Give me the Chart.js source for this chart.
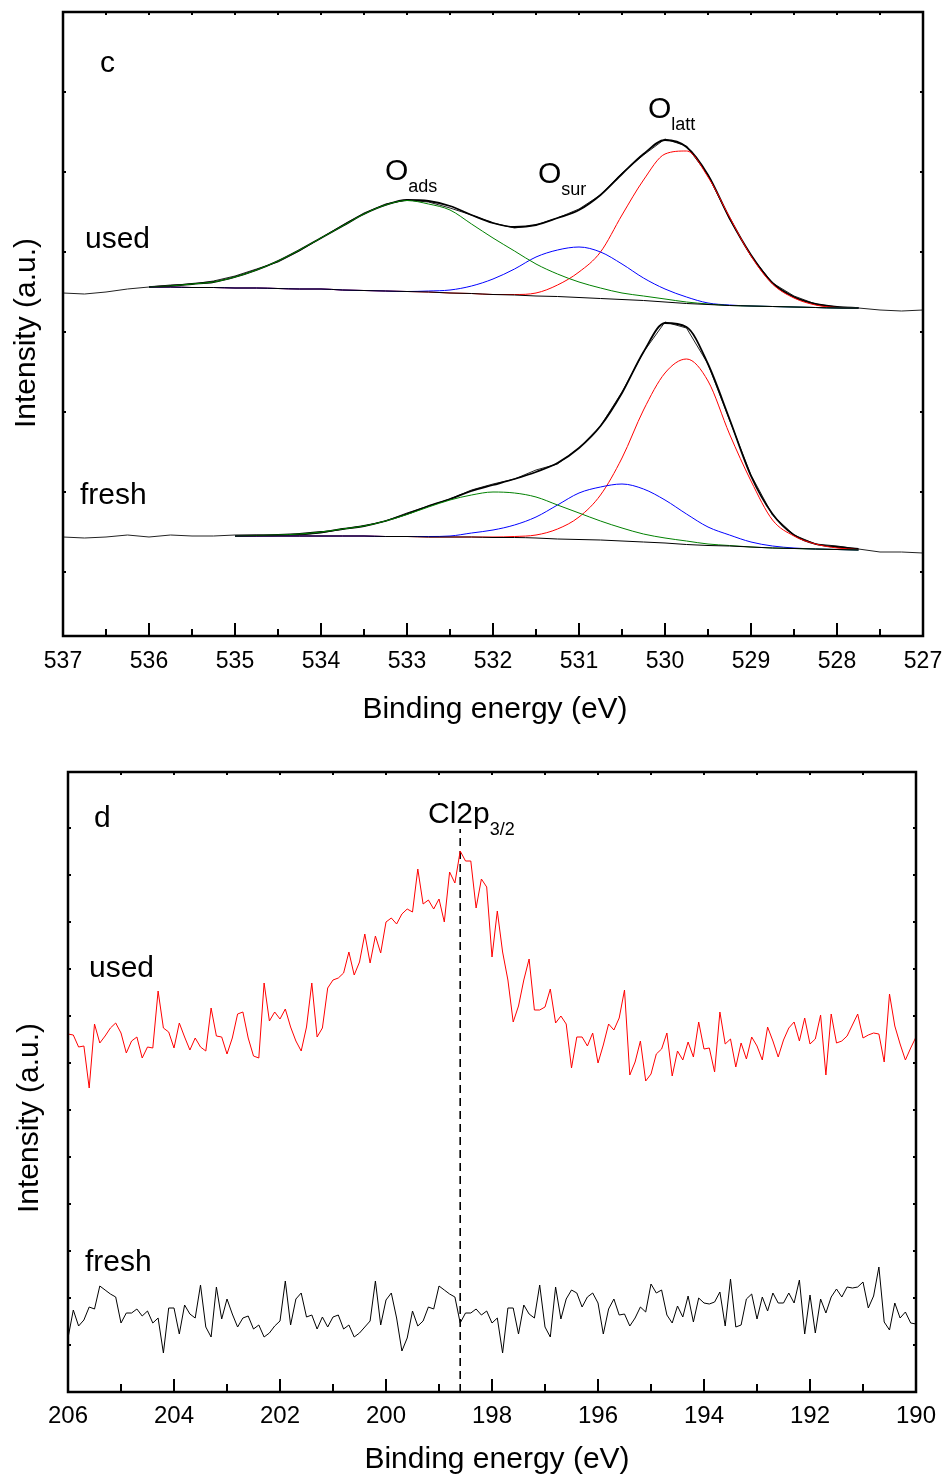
<!DOCTYPE html>
<html lang="en">
<head>
<meta charset="UTF-8">
<title>XPS O 1s and Cl 2p</title>
<script src="https://cdn.jsdelivr.net/npm/chart.js"></script>
<style>
  body { margin: 0; background: #fff; }
  canvas { position: absolute; left: 0; }
</style>
</head>
<body>
<canvas id="chartC" width="947" height="737" style="top:0"></canvas>
<canvas id="chartD" width="947" height="738" style="top:737px"></canvas>

<script>
// ---- panel c : O 1s, intensity in a.u., 0.25 eV steps ----
const energyO = [537, 536.75, 536.5, 536.25, 536, 535.75, 535.5, 535.25, 535, 534.75,
  534.5, 534.25, 534, 533.75, 533.5, 533.25, 533, 532.75, 532.5, 532.25,
  532, 531.75, 531.5, 531.25, 531, 530.75, 530.5, 530.25, 530, 529.75,
  529.5, 529.25, 529, 528.75, 528.5, 528.25, 528, 527.75, 527.5, 527.25, 527];

const usedRaw = [343, 342, 344, 347, 349, 351, 352, 355, 360, 367, 374, 385, 398, 411, 423, 432, 436, 434, 428, 421,
  413, 408, 411, 418, 427, 441, 463, 481, 497, 490, 461, 417, 380, 353, 340, 332, 329, 328, 326, 325, 326];
const usedEnv = [null, null, null, null, 349, 350, 352, 354, 359, 366, 375, 386, 398, 410, 422, 431, 436, 435, 430, 421,
  413, 409, 411, 418, 426, 441, 462, 482, 496, 489, 461, 418, 381, 353, 339, 332, 329, 328, null, null, null];
const usedBg = [null, null, null, null, 349, 349, 348.5, 348.5, 348, 348, 347.5, 347, 347, 346, 345.5, 345, 344.5, 344, 343, 342.5,
  341.5, 341, 340, 339.5, 338.5, 337.5, 336.5, 335.5, 334, 332.5, 331.5, 330.5, 330, 329.5, 329, 328.5, 328, 328, null, null, null];
const usedAds = [null, null, null, null, 349, 350, 352, 354, 359, 366, 375, 386, 398, 410, 422, 431, 435.5, 432, 426, 412,
  398, 385, 372, 362, 354, 348, 343, 340, 337, 334, 332, 330.5, 330, 329.5, 329, 328.5, 328, 328, null, null, null];
const usedSur = [null, null, null, null, 349, 349, 348.5, 348.5, 348, 348, 347.5, 347, 347, 346, 345.5, 345, 344.5, 345, 346, 350,
  357, 367, 379, 386, 389, 384, 372, 358, 347, 339, 333, 331, 330, 329.5, 329, 328.5, 328, 328, null, null, null];
const usedLatt = [null, null, null, null, 349, 349, 348.5, 348.5, 348, 348, 347.5, 347, 347, 346, 345.5, 345, 344.5, 344, 343, 342.5,
  341.5, 341.5, 343, 351, 364, 384, 421, 456, 482, 485, 459, 419, 380, 352, 338, 331, 328.5, 328, null, null, null];

const freshRaw = [99, 98, 99, 101, 99, 101, 100, 100, 101, 101, 101, 101, 103, 107, 110, 115, 123, 130, 137, 146,
  152, 157, 166, 172, 188, 210, 244, 284, 314, 308, 272, 216, 161, 121, 101, 92, 90, 87, 84, 84, 83];
const freshEnv = [null, null, null, null, null, null, null, null, 100, 100.5, 101, 102, 104, 107, 110, 115, 122, 130, 137, 145,
  151, 157, 164, 173, 188, 210, 243, 284, 313, 309, 272, 217, 160, 122, 101, 92, 89, 87, null, null, null];
const freshBg = [null, null, null, null, null, null, null, null, 100, 100, 100, 100, 100, 100, 100, 99.5, 99.5, 99, 99, 99,
  98.5, 98.5, 98, 97, 96.5, 96, 95, 94, 93, 91.5, 90.5, 90, 89, 88, 87.5, 87, 86.5, 86, null, null, null];
const freshAds = [null, null, null, null, null, null, null, null, 100, 100.5, 101, 102, 104, 107, 110, 115, 121.5, 129, 136, 141,
  144, 143, 139, 131, 123, 115, 108, 102, 98, 95, 92, 90.5, 89, 88, 87.5, 87, 86.5, 86, null, null, null];
const freshSur = [null, null, null, null, null, null, null, null, 100, 100, 100, 100, 100, 100, 100, 99.5, 99.5, 99.5, 100, 103,
  106, 111, 119, 131, 143, 149, 152, 147, 136, 122, 109, 101, 94, 90, 88, 87, 86.5, 86, null, null, null];
const freshLatt = [null, null, null, null, null, null, null, null, 100, 100, 100, 100, 100, 100, 100, 99.5, 99.5, 99, 99, 99,
  99, 99.5, 101, 107, 119, 141, 178, 226, 263, 277, 255, 202, 155, 116, 100, 92, 88, 86.5, null, null, null];

const yTicksO = [64, 144, 224, 304, 384, 464, 544];

// ---- panel d : Cl 2p, 0.1 eV steps from 206 to 190 ----
const clStart = 206, clStep = 0.1;
const usedCl = [358, 357, 345, 346, 304, 368, 349, 356, 364, 369,
  359, 339, 351, 355, 334, 345, 344, 401, 364, 360,
  344, 369, 355, 342, 354, 345, 341, 384, 356, 355,
  338, 354, 378, 380, 354, 336, 334, 409, 371, 380,
  373, 383, 365, 351, 341, 365, 409, 355, 364, 404,
  412, 414, 419, 440, 417, 430, 458, 429, 456, 439,
  470, 474, 468, 478, 483, 480, 523, 488, 492, 483,
  493, 470, 520, 509, 541, 531, 531, 484, 513, 505,
  435, 481, 440, 412, 370, 386, 412, 433, 382, 382,
  385, 403, 369, 376, 368, 324, 355, 355, 346, 359,
  329, 347, 368, 362, 374, 402, 317, 330, 351, 311,
  318, 338, 343, 359, 316, 341, 332, 350, 335, 370,
  343, 344, 320, 380, 348, 353, 325, 349, 333, 355,
  346, 332, 365, 351, 335, 352, 364, 370, 351, 374,
  348, 353, 377, 317, 378, 349, 351, 356, 367, 378,
  354, 357, 359, 358, 330, 398, 366, 348, 332, 344,
  355];
const freshCl = [54, 82, 66, 72, 85, 83, 106, 102, 98, 95,
  69, 79, 79, 83, 76, 81, 69, 74, 39, 84,
  84, 58, 87, 78, 74, 107, 65, 55, 105, 73,
  93, 78, 65, 74, 76, 63, 67, 55, 59, 66,
  71, 111, 67, 93, 99, 75, 77, 63, 75, 65,
  75, 77, 63, 67, 55, 59, 65, 71, 111, 67,
  92, 99, 74, 41, 54, 81, 66, 71, 85, 83,
  106, 102, 98, 95, 69, 79, 79, 83, 77, 81,
  69, 74, 39, 84, 84, 58, 87, 78, 74, 107,
  65, 55, 105, 73, 93, 102, 99, 85, 95, 99,
  89, 58, 83, 93, 77, 78, 66, 74, 85, 80,
  108, 99, 102, 77, 69, 86, 75, 96, 70, 94,
  89, 88, 90, 100, 66, 113, 65, 67, 93, 98,
  73, 95, 81, 99, 89, 89, 99, 89, 112, 58,
  97, 59, 93, 79, 95, 103, 95, 105, 104, 105,
  110, 84, 96, 125, 70, 62, 89, 74, 80, 69,
  68];
const cl2pPos = 198.6;
const cl2pTop = 563;

const FONT = "'Liberation Sans', Arial, Helvetica, sans-serif";
Chart.defaults.font.family = FONT;
Chart.defaults.color = '#000';

function series(xs, ys, color, width, smooth) {
  return {
    data: xs.map((x, i) => ({ x: x, y: ys[i] })).filter(p => p.y !== null && p.y !== undefined),
    borderColor: color,
    borderWidth: width,
    pointRadius: 0,
    fill: false,
    tension: smooth ? 0.4 : 0,
    cubicInterpolationMode: smooth ? 'monotone' : 'default'
  };
}

// box around the plot with inward ticks, like the original figure
function frameTicks(cfg) {
  return {
    id: 'frameTicks',
    afterDatasetsDraw(chart) {
      const { ctx, chartArea: a, scales: { x, y } } = chart;
      const majors = x.ticks.map(t => t.value);
      const minors = [];
      for (let i = 0; i < majors.length - 1; i++) minors.push((majors[i] + majors[i + 1]) / 2);
      ctx.save();
      ctx.strokeStyle = '#000';
      ctx.lineWidth = 2;
      ctx.beginPath();
      majors.concat(minors).forEach(v => {
        if (v <= x.min || v >= x.max) return;
        const px = x.getPixelForValue(v);
        const len = majors.includes(v) ? cfg.majorLen : cfg.minorLen;
        ctx.moveTo(px, a.bottom); ctx.lineTo(px, a.bottom - len);
        ctx.moveTo(px, a.top); ctx.lineTo(px, a.top + cfg.sideLen);
      });
      y.ticks.forEach(t => {
        if (t.value <= y.min || t.value >= y.max) return;
        const py = y.getPixelForValue(t.value);
        ctx.moveTo(a.left, py); ctx.lineTo(a.left + cfg.sideLen, py);
        ctx.moveTo(a.right, py); ctx.lineTo(a.right - cfg.sideLen, py);
      });
      ctx.stroke();
      ctx.lineWidth = 2.5;
      ctx.strokeRect(a.left, a.top, a.right - a.left, a.bottom - a.top);
      ctx.restore();
    }
  };
}

function notes(items) {
  return {
    id: 'notes',
    afterDraw(chart) {
      const ctx = chart.ctx;
      ctx.save();
      ctx.fillStyle = '#000';
      ctx.textBaseline = 'alphabetic';
      items.forEach(n => {
        ctx.font = n.size + 'px ' + FONT;
        if (n.rotate) {
          ctx.save();
          ctx.translate(n.x, n.y);
          ctx.rotate(-Math.PI / 2);
          ctx.textAlign = 'center';
          ctx.fillText(n.text, 0, 0);
          ctx.restore();
          return;
        }
        ctx.textAlign = n.align || 'left';
        ctx.fillText(n.text, n.x, n.y);
        if (n.sub) {
          const w = ctx.measureText(n.text).width;
          ctx.font = n.subSize + 'px ' + FONT;
          ctx.textAlign = 'left';
          ctx.fillText(n.sub, n.x + w, n.y + 12);
        }
      });
      ctx.restore();
    }
  };
}

const baseOptions = {
  responsive: false,
  animation: false,
  events: [],
  plugins: { legend: { display: false }, tooltip: { enabled: false } }
};

// tick marks are drawn by frameTicks; the library's own marks are kept invisible
// so that the label offset comes from tickLength and not from ticks.padding
const hiddenGrid = len => ({
  display: true, color: 'rgba(0,0,0,0)', drawOnChartArea: false, drawTicks: true, tickLength: len
});

new Chart(document.getElementById('chartC'), {
  type: 'line',
  data: {
    datasets: [
      series(energyO, usedBg, '#000', 1, true),
      series(energyO, usedAds, '#008000', 1, true),
      series(energyO, usedSur, '#0000ff', 1, true),
      series(energyO, usedLatt, '#ff0000', 1, true),
      series(energyO, usedEnv, '#000', 1.8, true),
      series(energyO, usedRaw, '#222', 1, false),
      series(energyO, freshBg, '#000', 1, true),
      series(energyO, freshAds, '#008000', 1, true),
      series(energyO, freshSur, '#0000ff', 1, true),
      series(energyO, freshLatt, '#ff0000', 1, true),
      series(energyO, freshEnv, '#000', 1.8, true),
      series(energyO, freshRaw, '#222', 1, false)
    ]
  },
  options: Object.assign({}, baseOptions, {
    layout: { padding: { top: 12, right: 24, left: 0, bottom: 0 } },
    scales: {
      x: {
        type: 'linear', reverse: true, min: 527, max: 537,
        ticks: { stepSize: 1, padding: 0, font: { size: 23 }, color: '#000' },
        grid: hiddenGrid(12),
        border: { display: false },
        afterFit: s => { s.height = 101; }
      },
      y: {
        min: 0, max: 624,
        ticks: { display: false },
        grid: { display: false, drawTicks: false },
        border: { display: false },
        afterBuildTicks: s => { s.ticks = yTicksO.map(v => ({ value: v })); },
        afterFit: s => { s.width = 63; }
      }
    }
  }),
  plugins: [
    frameTicks({ majorLen: 13, minorLen: 7, sideLen: 3 }),
    notes([
      { text: 'c', x: 100, y: 72, size: 30 },
      { text: 'used', x: 85, y: 248, size: 30 },
      { text: 'fresh', x: 80, y: 504, size: 30 },
      { text: 'O', x: 385, y: 180, size: 30, sub: 'ads', subSize: 18 },
      { text: 'O', x: 538, y: 183, size: 30, sub: 'sur', subSize: 18 },
      { text: 'O', x: 648, y: 118, size: 30, sub: 'latt', subSize: 18 },
      { text: 'Binding energy (eV)', x: 495, y: 718, size: 30, align: 'center' },
      { text: 'Intensity (a.u.)', x: 35, y: 333, size: 30, rotate: true }
    ])
  ]
});

const clEnergy = usedCl.map((_, i) => +(clStart - clStep * i).toFixed(1));

new Chart(document.getElementById('chartD'), {
  type: 'line',
  data: {
    datasets: [
      series(clEnergy, usedCl, '#ff0000', 1, false),
      series(clEnergy, freshCl, '#000', 1, false),
      Object.assign(series([cl2pPos, cl2pPos], [0, cl2pTop], '#000', 1.6, false), { borderDash: [8, 5] })
    ]
  },
  options: Object.assign({}, baseOptions, {
    layout: { padding: { top: 35, right: 31, left: 0, bottom: 0 } },
    scales: {
      x: {
        type: 'linear', reverse: true, min: 190, max: 206,
        ticks: { stepSize: 2, padding: 0, font: { size: 24 }, color: '#000' },
        grid: hiddenGrid(10),
        border: { display: false },
        afterFit: s => { s.height = 83; }
      },
      y: {
        min: 0, max: 620,
        ticks: { display: false, stepSize: 47 },
        grid: { display: false, drawTicks: false },
        border: { display: false },
        afterFit: s => { s.width = 68; }
      }
    }
  }),
  plugins: [
    frameTicks({ majorLen: 13, minorLen: 8, sideLen: 3 }),
    notes([
      { text: 'd', x: 94, y: 90, size: 30 },
      { text: 'used', x: 89, y: 240, size: 30 },
      { text: 'fresh', x: 85, y: 534, size: 30 },
      { text: 'Cl2p', x: 428, y: 86, size: 30, sub: '3/2', subSize: 18 },
      { text: 'Binding energy (eV)', x: 497, y: 731, size: 30, align: 'center' },
      { text: 'Intensity (a.u.)', x: 38, y: 381, size: 30, rotate: true }
    ])
  ]
});
</script>
</body>
</html>
